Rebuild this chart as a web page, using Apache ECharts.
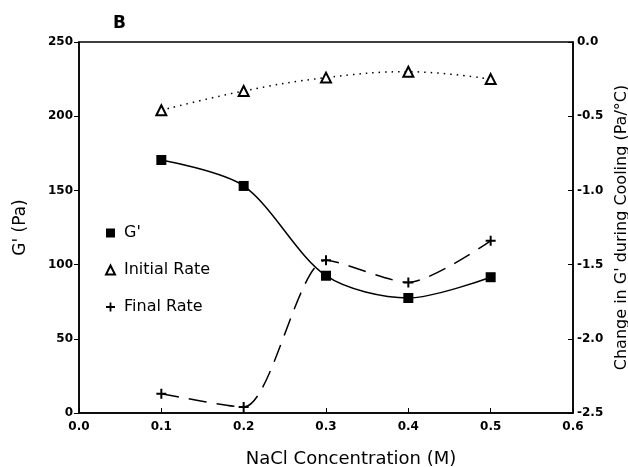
<!DOCTYPE html>
<html>
<head>
<meta charset="utf-8">
<script src="https://cdn.jsdelivr.net/npm/echarts@6/dist/echarts.min.js"></script>
<style>
  html, body { margin: 0; padding: 0; background: #fff; }
  #chart { width: 628px; height: 467px; }
</style>
</head>
<body>
<div id="chart"></div>
<script>
const nacl = [0.1, 0.2, 0.3, 0.4, 0.5]
const gPrime = [170.5, 153, 92.5, 77.5, 91.5]
const initialRate = [-0.46, -0.33, -0.24, -0.2, -0.25]
const finalRate = [-2.37, -2.46, -1.47, -1.62, -1.34]

const plusPath = 'path://M4,0H6V4H10V6H6V10H4V6H0V4H4Z'
const font = 'DejaVu Sans'

const chart = echarts.init(document.getElementById('chart'))

const pairs = (ys) => nacl.map((x, i) => [x, ys[i]])

chart.setOption({
  animation: false,
  backgroundColor: '#fff',
  title: {
    text: 'B',
    left: 108,
    top: 10,
    textStyle: { fontFamily: font, fontSize: 17, fontWeight: 'bold', color: '#000' },
  },
  legend: {
    orient: 'vertical',
    left: 100,
    top: 220,
    itemGap: 21,
    itemWidth: 9,
    itemHeight: 9,
    textStyle: { fontFamily: font, fontSize: 16, color: '#000', padding: [0, 0, 0, 4] },
    data: [
      { name: "G'", icon: 'rect' },
      { name: 'Initial Rate', icon: 'emptyTriangle' },
      { name: 'Final Rate', icon: plusPath },
    ],
  },
  grid: {
    left: 79, right: 55, top: 42, bottom: 54,
    outerBoundsMode: 'none', containLabel: false,
    show: true, borderColor: '#000', borderWidth: 1.5,
  },
  xAxis: {
    type: 'value',
    min: 0,
    max: 0.6,
    interval: 0.1,
    name: 'NaCl Concentration (M)',
    nameLocation: 'middle',
    nameGap: 37,
    nameTextStyle: { fontFamily: font, fontSize: 18, color: '#000', padding: [0, 0, 0, 50] },
    axisLine: { lineStyle: { color: '#000', width: 1.5 } },
    axisTick: { inside: true, length: 5, lineStyle: { color: '#000' } },
    axisLabel: {
      color: '#000', fontFamily: font, fontSize: 12, fontWeight: 'bold', margin: 8,
      formatter: (v) => v.toFixed(1),
    },
    splitLine: { show: false },
  },
  yAxis: [
    {
      type: 'value',
      min: 0,
      max: 250,
      interval: 50,
      name: "G' (Pa)",
      nameLocation: 'middle',
      nameGap: 50,
      nameRotate: 90,
      nameTextStyle: { fontFamily: font, fontSize: 17, color: '#000' },
      axisLine: { show: true, lineStyle: { color: '#000', width: 1.5 } },
      axisTick: { show: true, length: 5, lineStyle: { color: '#000' } },
      axisLabel: { color: '#000', fontFamily: font, fontSize: 12, fontWeight: 'bold', margin: 6 },
      splitLine: { show: false },
    },
    {
      type: 'value',
      min: -2.5,
      max: 0,
      interval: 0.5,
      position: 'right',
      name: "Change in G' during Cooling (Pa/°C)",
      nameLocation: 'middle',
      nameGap: 38,
      nameRotate: 90,
      nameTextStyle: { fontFamily: font, fontSize: 16, color: '#000' },
      axisLine: { show: true, lineStyle: { color: '#000', width: 1.5 } },
      axisTick: { show: true, inside: true, length: 5, lineStyle: { color: '#000' } },
      axisLabel: {
        color: '#000', fontFamily: font, fontSize: 12, fontWeight: 'bold', margin: 4,
        formatter: (v) => v.toFixed(1),
      },
      splitLine: { show: false },
    },
  ],
  series: [
    {
      name: "G'",
      type: 'line',
      yAxisIndex: 0,
      data: pairs(gPrime),
      smooth: 0.3,
      symbol: 'rect',
      symbolSize: 10,
      itemStyle: { color: '#000' },
      lineStyle: { color: '#000', width: 1.5 },
    },
    {
      name: 'Initial Rate',
      type: 'line',
      yAxisIndex: 1,
      data: pairs(initialRate),
      smooth: 0.4,
      symbol: 'emptyTriangle',
      symbolSize: 10,
      itemStyle: { color: '#000', borderWidth: 1.5 },
      lineStyle: { color: '#000', width: 1.5, type: [1.5, 5] },
    },
    {
      name: 'Final Rate',
      type: 'line',
      yAxisIndex: 1,
      data: pairs(finalRate),
      smooth: 0.25,
      symbol: plusPath,
      symbolSize: 10,
      itemStyle: { color: '#000' },
      lineStyle: { color: '#000', width: 1.5, type: [18, 10] },
    },
  ],
})
</script>
</body>
</html>
